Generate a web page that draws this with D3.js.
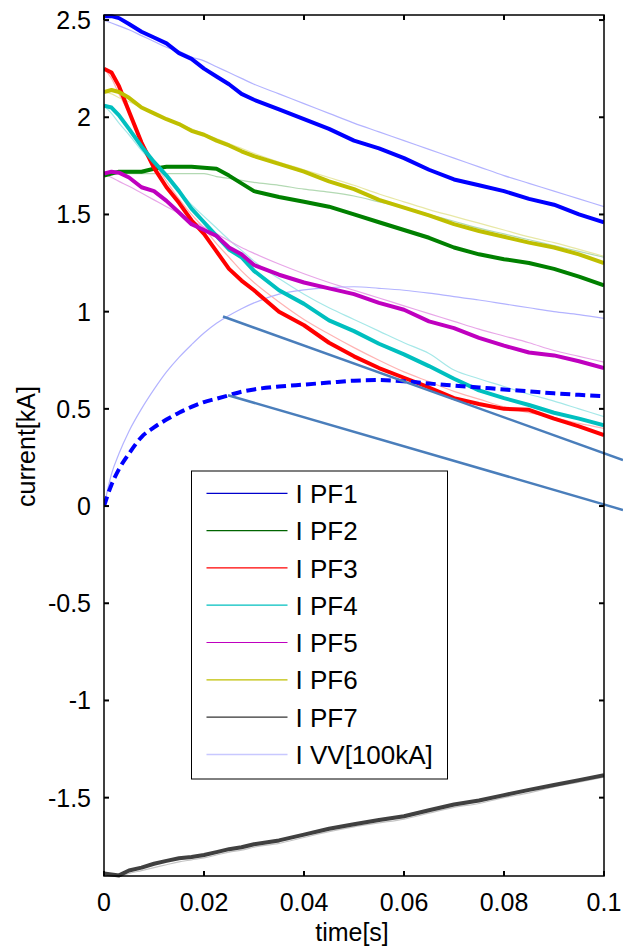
<!DOCTYPE html>
<html>
<head>
<meta charset="utf-8">
<script src="https://cdn.jsdelivr.net/npm/d3@7"></script>
<style>
  body { margin: 0; background: #fff; }
  text { font-family: "Liberation Sans", Arial, sans-serif; fill: #000; }
</style>
</head>
<body>
<div id="chart"></div>
<script>

// time grid [s]
const time = [0, 0.0015, 0.003, 0.005, 0.0075, 0.01, 0.0125, 0.015, 0.0175, 0.02, 0.0225, 0.025, 0.0275, 0.03,
  0.035, 0.04, 0.045, 0.05, 0.055, 0.06, 0.065, 0.07, 0.075, 0.08, 0.085, 0.09, 0.095, 0.1];

// measured currents [kA]
const pf1 = [2.52, 2.52, 2.51, 2.48, 2.44, 2.41, 2.38, 2.33, 2.30, 2.25, 2.21, 2.17, 2.12, 2.09,
  2.04, 1.99, 1.94, 1.88, 1.84, 1.79, 1.73, 1.68, 1.65, 1.62, 1.58, 1.55, 1.50, 1.46];
const pf2 = [1.70, 1.71, 1.72, 1.72, 1.72, 1.735, 1.745, 1.745, 1.745, 1.74, 1.735, 1.70, 1.66, 1.62,
  1.59, 1.565, 1.54, 1.50, 1.46, 1.42, 1.38, 1.33, 1.295, 1.27, 1.25, 1.22, 1.18, 1.135];
const pf3 = [2.25, 2.23, 2.16, 2.03, 1.87, 1.74, 1.64, 1.56, 1.47, 1.40, 1.31, 1.22, 1.16, 1.11,
  1.00, 0.93, 0.84, 0.77, 0.71, 0.66, 0.61, 0.555, 0.525, 0.50, 0.495, 0.45, 0.41, 0.365];
const pf4 = [2.06, 2.05, 2.01, 1.94, 1.85, 1.77, 1.70, 1.62, 1.53, 1.46, 1.39, 1.32, 1.28, 1.21,
  1.11, 1.04, 0.955, 0.90, 0.835, 0.78, 0.72, 0.655, 0.595, 0.555, 0.52, 0.48, 0.45, 0.415];
const pf5 = [1.71, 1.72, 1.715, 1.69, 1.64, 1.62, 1.57, 1.51, 1.45, 1.42, 1.39, 1.33, 1.295, 1.24,
  1.19, 1.15, 1.12, 1.09, 1.045, 1.01, 0.95, 0.915, 0.865, 0.825, 0.79, 0.775, 0.745, 0.71];
const pf6 = [2.13, 2.14, 2.13, 2.10, 2.05, 2.02, 1.99, 1.965, 1.93, 1.91, 1.88, 1.855, 1.825, 1.80,
  1.76, 1.72, 1.67, 1.63, 1.575, 1.535, 1.495, 1.45, 1.415, 1.385, 1.355, 1.33, 1.295, 1.25];
const pf7 = [-1.89, -1.895, -1.90, -1.875, -1.86, -1.84, -1.825, -1.812, -1.805, -1.795, -1.78, -1.765, -1.755, -1.74,
  -1.72, -1.69, -1.66, -1.637, -1.615, -1.596, -1.565, -1.535, -1.515, -1.487, -1.46, -1.435, -1.41, -1.385];
const vv = [0, 0.11, 0.19, 0.27, 0.355, 0.405, 0.445, 0.48, 0.51, 0.535, 0.552, 0.57, 0.588, 0.60,
  0.615, 0.625, 0.635, 0.645, 0.648, 0.642, 0.63, 0.62, 0.61, 0.60, 0.59, 0.58, 0.572, 0.565];

// reference (model) currents, thin lines
const pf1Ref = [2.50, 2.485, 2.47, 2.45, 2.42, 2.39, 2.36, 2.34, 2.31, 2.29, 2.26, 2.23, 2.20, 2.17,
  2.12, 2.07, 2.02, 1.97, 1.925, 1.88, 1.835, 1.79, 1.745, 1.70, 1.66, 1.62, 1.58, 1.54];
const pf2Ref = [1.71, 1.71, 1.71, 1.71, 1.71, 1.71, 1.71, 1.71, 1.71, 1.71, 1.695, 1.685, 1.675, 1.665,
  1.65, 1.63, 1.615, 1.595, 1.565, 1.535, 1.50, 1.465, 1.43, 1.40, 1.37, 1.34, 1.31, 1.28];
const pf3Ref = [2.25, 2.20, 2.12, 2.02, 1.88, 1.77, 1.67, 1.58, 1.50, 1.43, 1.35, 1.28, 1.21, 1.15,
  1.05, 0.96, 0.885, 0.815, 0.75, 0.69, 0.64, 0.59, 0.55, 0.51, 0.48, 0.455, 0.425, 0.40];
const pf4Ref = [2.06, 2.02, 1.97, 1.91, 1.83, 1.76, 1.69, 1.62, 1.55, 1.49, 1.43, 1.37, 1.315, 1.26,
  1.17, 1.09, 1.02, 0.96, 0.90, 0.84, 0.785, 0.70, 0.655, 0.615, 0.575, 0.54, 0.50, 0.46];
const pf5Ref = [1.71, 1.69, 1.67, 1.645, 1.61, 1.575, 1.54, 1.505, 1.47, 1.435, 1.40, 1.365, 1.33, 1.30,
  1.245, 1.195, 1.15, 1.11, 1.07, 1.03, 0.99, 0.95, 0.91, 0.875, 0.84, 0.80, 0.77, 0.74];
const pf6Ref = [2.13, 2.12, 2.10, 2.08, 2.05, 2.02, 1.99, 1.965, 1.94, 1.915, 1.89, 1.865, 1.84, 1.815,
  1.77, 1.73, 1.69, 1.65, 1.605, 1.565, 1.525, 1.49, 1.455, 1.42, 1.385, 1.355, 1.32, 1.285];
const pf7Ref = [-1.89, -1.90, -1.905, -1.89, -1.875, -1.86, -1.845, -1.83, -1.82, -1.81, -1.795, -1.78, -1.77, -1.755,
  -1.735, -1.705, -1.675, -1.65, -1.63, -1.61, -1.58, -1.55, -1.53, -1.50, -1.475, -1.445, -1.42, -1.395];
const vvRef = [0, 0.165, 0.27, 0.385, 0.50, 0.60, 0.69, 0.765, 0.83, 0.89, 0.94, 0.98, 1.015, 1.045,
  1.09, 1.112, 1.124, 1.128, 1.12, 1.11, 1.095, 1.077, 1.06, 1.04, 1.02, 1.0, 0.985, 0.965];

// the two annotation strokes, [time, current]
const annoUpper = [[0.0238, 0.975], [0.1038, 0.237]];
const annoLower = [[0.0248, 0.57], [0.1038, -0.02]];

const xTicks = [0, 0.02, 0.04, 0.06, 0.08, 0.1];
const yTicks = [-1.5, -1, -0.5, 0, 0.5, 1, 1.5, 2, 2.5];
const legendNames = ['I PF1', 'I PF2', 'I PF3', 'I PF4', 'I PF5', 'I PF6', 'I PF7', 'I VV[100kA]'];


const width = 623, height = 948;
const margin = {top: 15, right: 19, bottom: 72, left: 104};
const w = width - margin.left - margin.right;
const h = height - margin.top - margin.bottom;

const svg = d3.select('#chart').append('svg')
    .attr('width', width)
    .attr('height', height);

const x = d3.scaleLinear().domain([0, 0.1]).range([margin.left, margin.left + w]);
const y = d3.scaleLinear().domain([-1.903, 2.526]).range([margin.top + h, margin.top]);

svg.append('clipPath').attr('id', 'plotclip')
  .append('rect')
    .attr('x', margin.left).attr('y', margin.top - 2)
    .attr('width', w).attr('height', h + 4);

const line = d3.line()
    .x((d, i) => x(time[i]))
    .y(d => y(d));
// model curves are smooth
const smooth = d3.line()
    .x((d, i) => x(time[i]))
    .y(d => y(d))
    .curve(d3.curveMonotoneX);

// thin reference lines go underneath
const refs = [
  {v: pf1Ref, c: '#b3b3ff'},
  {v: pf2Ref, c: '#b3d9b3'},
  {v: pf3Ref, c: '#ffb3b3'},
  {v: pf4Ref, c: '#a6e8e8'},
  {v: pf5Ref, c: '#e8a6e8'},
  {v: pf6Ref, c: '#e8e8a6'},
  {v: pf7Ref, c: '#c4c4c4'},
  {v: vvRef,  c: '#b3b3ff'}
];

const thick = [
  {v: pf1, c: '#0000ff'},
  {v: pf2, c: '#008000'},
  {v: pf3, c: '#ff0000'},
  {v: pf4, c: '#00bfbf'},
  {v: pf5, c: '#bf00bf'},
  {v: pf6, c: '#bfbf00'},
  {v: pf7, c: '#404040'}
];

const plot = svg.append('g').attr('clip-path', 'url(#plotclip)');

plot.selectAll('.ref')
  .data(refs)
  .enter().append('path')
    .attr('class', 'ref')
    .attr('d', d => smooth(d.v))
    .attr('fill', 'none')
    .attr('stroke', d => d.c)
    .attr('stroke-width', 1.2);

plot.selectAll('.meas')
  .data(thick)
  .enter().append('path')
    .attr('class', 'meas')
    .attr('d', d => line(d.v))
    .attr('fill', 'none')
    .attr('stroke', d => d.c)
    .attr('stroke-width', 4)
    .attr('stroke-linejoin', 'round');

plot.append('path')
    .attr('d', smooth(vv))
    .attr('fill', 'none')
    .attr('stroke', '#0000ff')
    .attr('stroke-width', 4)
    .attr('stroke-dasharray', '10,5');

// annotation strokes run past the right axis
const annoLine = d3.line().x(d => x(d[0])).y(d => y(d[1]));
[annoUpper, annoLower].forEach(a => {
  svg.append('path')
      .attr('d', annoLine(a))
      .attr('fill', 'none')
      .attr('stroke', '#4a7ebb')
      .attr('stroke-width', 2.5);
});

// axes box
svg.append('rect')
    .attr('x', margin.left).attr('y', margin.top)
    .attr('width', w).attr('height', h)
    .attr('fill', 'none')
    .attr('stroke', '#000')
    .attr('stroke-width', 1.5);

const tickLen = 5;
const axes = svg.append('g');
xTicks.forEach(t => {
  axes.append('line').attr('x1', x(t)).attr('x2', x(t))
      .attr('y1', margin.top + h).attr('y2', margin.top + h - tickLen);
  axes.append('line').attr('x1', x(t)).attr('x2', x(t))
      .attr('y1', margin.top).attr('y2', margin.top + tickLen);
  axes.append('text')
      .attr('x', x(t)).attr('y', margin.top + h + 35)
      .attr('text-anchor', 'middle')
      .style('font-size', '25px')
      .text(d3.format('~g')(t));
});
yTicks.forEach(t => {
  axes.append('line').attr('y1', y(t)).attr('y2', y(t))
      .attr('x1', margin.left).attr('x2', margin.left + tickLen);
  axes.append('line').attr('y1', y(t)).attr('y2', y(t))
      .attr('x1', margin.left + w).attr('x2', margin.left + w - tickLen);
  axes.append('text')
      .attr('x', margin.left - 13).attr('y', y(t))
      .attr('dy', '0.36em')
      .attr('text-anchor', 'end')
      .style('font-size', '25px')
      .text(t);
});
axes.selectAll('line').attr('stroke', '#000').attr('stroke-width', 2);

svg.append('text')
    .attr('x', margin.left + w / 2 - 2).attr('y', 941)
    .attr('text-anchor', 'middle')
    .style('font-size', '25px')
    .text('time[s]');

svg.append('text')
    .attr('transform', `translate(35,${margin.top + h / 2 + 1}) rotate(-90)`)
    .attr('text-anchor', 'middle')
    .style('font-size', '25px')
    .text('current[kA]');

// legend
const lg = svg.append('g').attr('transform', 'translate(191.5,471)');
lg.append('rect')
    .attr('width', 256).attr('height', 308)
    .attr('fill', '#fff')
    .attr('stroke', '#000')
    .attr('stroke-width', 1);

const legendColors = ['#0000cc', '#006400', '#ff0000', '#00bfbf', '#bf00bf', '#bfbf00', '#333333', '#c8c8ff'];
const rowY = i => 22.3 + i * 37.3;
legendNames.forEach((name, i) => {
  lg.append('line')
      .attr('x1', 15).attr('x2', 96)
      .attr('y1', rowY(i)).attr('y2', rowY(i))
      .attr('stroke', legendColors[i])
      .attr('stroke-width', i === 7 ? 1.5 : 1.2);
  lg.append('text')
      .attr('x', 104).attr('y', rowY(i))
      .attr('dy', '0.37em')
      .style('font-size', '26px')
      .text(name);
});

</script>
</body>
</html>
